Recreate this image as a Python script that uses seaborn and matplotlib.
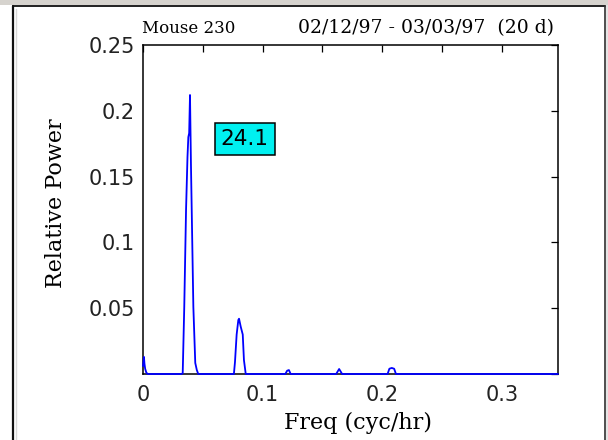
import numpy as np
import pandas as pd
import matplotlib
matplotlib.use("Agg")
import matplotlib.pyplot as plt
from matplotlib.lines import Line2D
from matplotlib.patches import Rectangle
import seaborn as sns

# ---- data ----
freq = [0.0, 0.0008, 0.0012, 0.0018, 0.0028, 0.0040,
        0.0320, 0.0332, 0.0345, 0.0360, 0.0372, 0.0379, 0.0386, 0.0393,
        0.0401, 0.0421, 0.0437, 0.0450, 0.0462,
        0.0760, 0.0769, 0.0783, 0.0797, 0.0803, 0.0817, 0.0834, 0.0844, 0.0859,
        0.1190, 0.1205, 0.1220, 0.1235,
        0.1615, 0.1640, 0.1665,
        0.2045, 0.2060, 0.2080, 0.2100, 0.2115,
        0.347]
power = [0.006, 0.013, 0.008, 0.004, 0.001, 0.0,
         0.0, 0.0005, 0.051, 0.125, 0.165, 0.180, 0.183, 0.212,
         0.159, 0.051, 0.0084, 0.003, 0.0,
         0.0, 0.009, 0.030, 0.041, 0.042, 0.036, 0.030, 0.0106, 0.0,
         0.0, 0.0025, 0.003, 0.0,
         0.0, 0.0038, 0.0,
         0.0, 0.004, 0.0046, 0.004, 0.0,
         0.0]

xticks = [0.0, 0.05, 0.1, 0.15, 0.2, 0.25, 0.3]
xticklabels = ["0", "", "0.1", "", "0.2", "", "0.3"]
yticks = [0.0, 0.05, 0.1, 0.15, 0.2, 0.25]
yticklabels = ["", "0.05", "0.1", "0.15", "0.2", "0.25"]

title_left = "Mouse 230"
title_right = "02/12/97 - 03/03/97  (20 d)"
xlabel = "Freq (cyc/hr)"
ylabel = "Relative Power"
period_label = "24.1"
period_pos = (0.085, 0.1784)

df = pd.DataFrame({"freq": freq, "power": power})

sns.set_theme(style="white")
plt.rcParams["font.family"] = ["DejaVu Sans"]

W, H = 608, 440
fig = plt.figure(figsize=(W / 100, H / 100), dpi=100)
fig.patch.set_facecolor("white")

# window-like frame
fig.add_artist(Rectangle((0, 1 - 5 / H), 1, 5 / H, transform=fig.transFigure,
                         facecolor="#d6d3ce", edgecolor="none"))
fig.add_artist(Rectangle((606 / W, 0), 2 / W, 1 - 5 / H, transform=fig.transFigure,
                         facecolor="#e4e4e4", edgecolor="none"))
fig.add_artist(Line2D([12.5 / W, 604.5 / W], [1 - 6.5 / H, 1 - 6.5 / H],
                      transform=fig.transFigure, color="#202020", lw=1.4))
fig.add_artist(Line2D([13 / W, 13 / W], [0, 1 - 6.5 / H],
                      transform=fig.transFigure, color="#101010", lw=1.6))
fig.add_artist(Line2D([604.5 / W, 604.5 / W], [0, 1 - 6.5 / H],
                      transform=fig.transFigure, color="#303030", lw=1.2))
fig.add_artist(Line2D([15.5 / W, 15.5 / W], [0, 1 - 9 / H],
                      transform=fig.transFigure, color="#d8d8d8", lw=1.0))

ax = fig.add_axes([143 / W, 1 - 374 / H, (558 - 143) / W, (374 - 45) / H])
ax.set_facecolor("white")

sns.lineplot(data=df, x="freq", y="power", ax=ax, color="#0000ff",
             linewidth=1.3, estimator=None, sort=False)
for ln in ax.lines:
    ln.set_clip_on(False)
    ln.set_zorder(3)

ax.set_xlim(0, 0.347)
ax.set_ylim(0, 0.25)
ax.set_xticks(xticks)
ax.set_xticklabels(xticklabels)
ax.set_yticks(yticks)
ax.set_yticklabels(yticklabels)

for s in ax.spines.values():
    s.set_visible(True)
    s.set_color("black")
    s.set_linewidth(1.1)

ax.tick_params(axis="both", direction="in", length=5, width=0.9, colors="black",
               top=True, right=True, labelsize=15)
ax.tick_params(axis="x", pad=8)
ax.tick_params(axis="y", pad=6)
for lab in ax.get_xticklabels() + ax.get_yticklabels():
    lab.set_color("#222222")

ax.set_xlabel(xlabel, family="DejaVu Serif", fontsize=16, color="black")
ax.set_ylabel(ylabel, family="DejaVu Serif", fontsize=16, color="black")
ax.xaxis.set_label_coords(0.519, -0.1155)
ax.yaxis.set_label_coords(-0.183, 0.52)

fig.text(188.5 / W, 1 - 33 / H, title_left, family="DejaVu Serif", fontsize=12,
         ha="center", va="baseline", color="black")
fig.text(426.5 / W, 1 - 33 / H, title_right, family="DejaVu Serif", fontsize=13.5,
         ha="center", va="baseline", color="black")

ax.text(period_pos[0], period_pos[1], period_label, fontsize=15.5, color="black",
        ha="center", va="center",
        bbox=dict(boxstyle="square,pad=0.28", facecolor="#00f0f0",
                  edgecolor="black", linewidth=1.1))

fig.savefig("out.png", dpi=100, facecolor="white")
